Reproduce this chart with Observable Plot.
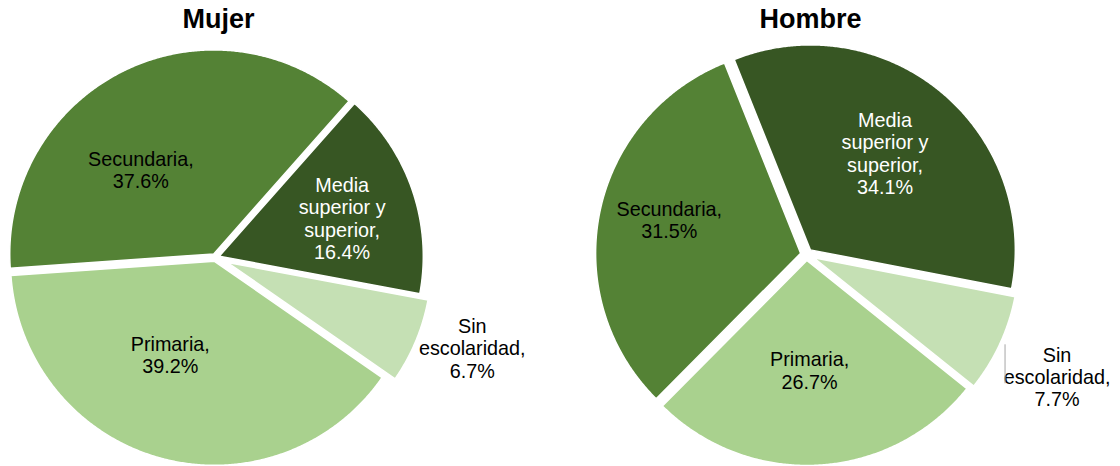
<!DOCTYPE html>
<html><head><meta charset="utf-8">
<script src="https://cdn.jsdelivr.net/npm/d3@7"></script>
<script src="https://cdn.jsdelivr.net/npm/@observablehq/plot@0.6"></script>
<style>body{margin:0;background:#fff;} svg{display:block;}</style>
</head><body><div id="chart"></div>
<script>
// ---- data ----
const sexes = ["Mujer", "Hombre"];
const categories = ["Media superior y superior", "Sin escolaridad", "Primaria", "Secundaria"];
const labelNames = ["Media\nsuperior y\nsuperior", "Sin\nescolaridad", "Primaria", "Secundaria"];
const mujerValues = [16.4, 6.7, 39.2, 37.6];
const hombreValues = [34.1, 7.7, 26.7, 31.5];

// ---- style / layout ----
const colors = ["#375623", "#C5E0B4", "#A9D18E", "#548235"];
const W = 1120, H = 466;
const layout = {
  Mujer:  {cx: 215, cy: 257, r: 204, titleX: 218, start: 41.5,  explode: [4, 13, 4, 4],
           label: [[0.65, 1.7], [1.335, -3.2], [0.525, 9.6], [0.564, -14.2]]},
  Hombre: {cx: 806, cy: 254, r: 205, titleX: 810, start: -21.8, explode: [6, 8, 6, 6],
           label: [[0.625, -1.8], [1.36, 1.2], [0.566, 1.75], [0.69, 2.6]]}
};
const valuesBySex = {Mujer: mujerValues, Hombre: hombreValues};
const rad = Math.PI / 180;

const slicePoints = [];
const labels = [];
for (const sex of sexes) {
  const L = layout[sex];
  const R = L.r;
  const a0 = L.start * rad;
  const arcs = d3.pie().sort(null).value(d => d).startAngle(a0).endAngle(a0 + 2 * Math.PI)(valuesBySex[sex]);
  arcs.forEach((arc, i) => {
    const mid = (arc.startAngle + arc.endAngle) / 2;
    const e = L.explode[i];
    const tx = L.cx + e * Math.sin(mid), ty = L.cy - e * Math.cos(mid);
    const key = sex + "-" + i;
    slicePoints.push({key, cat: categories[i], x: tx, y: ty});
    const n = Math.max(2, Math.ceil((arc.endAngle - arc.startAngle) / (0.4 * rad)));
    for (let k = 0; k <= n; k++) {
      const a = arc.startAngle + (arc.endAngle - arc.startAngle) * k / n;
      slicePoints.push({key, cat: categories[i], x: tx + R * Math.sin(a), y: ty - R * Math.cos(a)});
    }
    const [frac, nudge] = L.label[i];
    const la = mid + nudge * rad;
    labels.push({
      sex, i, cat: categories[i],
      x: L.cx + frac * R * Math.sin(la),
      y: L.cy - frac * R * Math.cos(la),
      text: labelNames[i] + ",\n" + valuesBySex[sex][i].toFixed(1) + "%"
    });
  });
}

const titles = sexes.map(s => ({sex: s, x: layout[s].titleX}));
const leader = labels.filter(d => d.sex === "Hombre" && d.i === 1);
const font = "Arial, 'Liberation Sans', sans-serif";

const chart = Plot.plot({
  width: W, height: H,
  margin: 0,
  x: {domain: [0, W], range: [0, W], axis: null},
  y: {domain: [0, H], range: [0, H], axis: null},
  color: {domain: categories, range: colors},
  style: {fontFamily: font, background: "white"},
  marks: [
    Plot.line(slicePoints, {x: "x", y: "y", z: "key", fill: "cat", stroke: "white", strokeWidth: 1.5, curve: "linear-closed"}),
    Plot.text(labels.filter(d => d.i !== 0), {x: "x", y: "y", text: "text", fill: "black", fontSize: 19.8, lineHeight: 1.13, textAnchor: "middle", lineAnchor: "middle", fontFamily: font}),
    Plot.text(labels.filter(d => d.i === 0), {x: "x", y: "y", text: "text", fill: "white", fontSize: 19.8, lineHeight: 1.13, textAnchor: "middle", lineAnchor: "middle", fontFamily: font}),
    Plot.ruleX(leader, {x: d => d.x - 52, y1: d => d.y - 32, y2: d => d.y + 7, stroke: "#A6A6A6", strokeWidth: 1}),
    Plot.text(titles, {x: "x", y: () => 18.4, text: "sex", fontSize: 27, fontWeight: "bold", fill: "black", textAnchor: "middle", lineAnchor: "middle", fontFamily: font})
  ]
});
document.getElementById("chart").appendChild(chart);
</script>
</body></html>
